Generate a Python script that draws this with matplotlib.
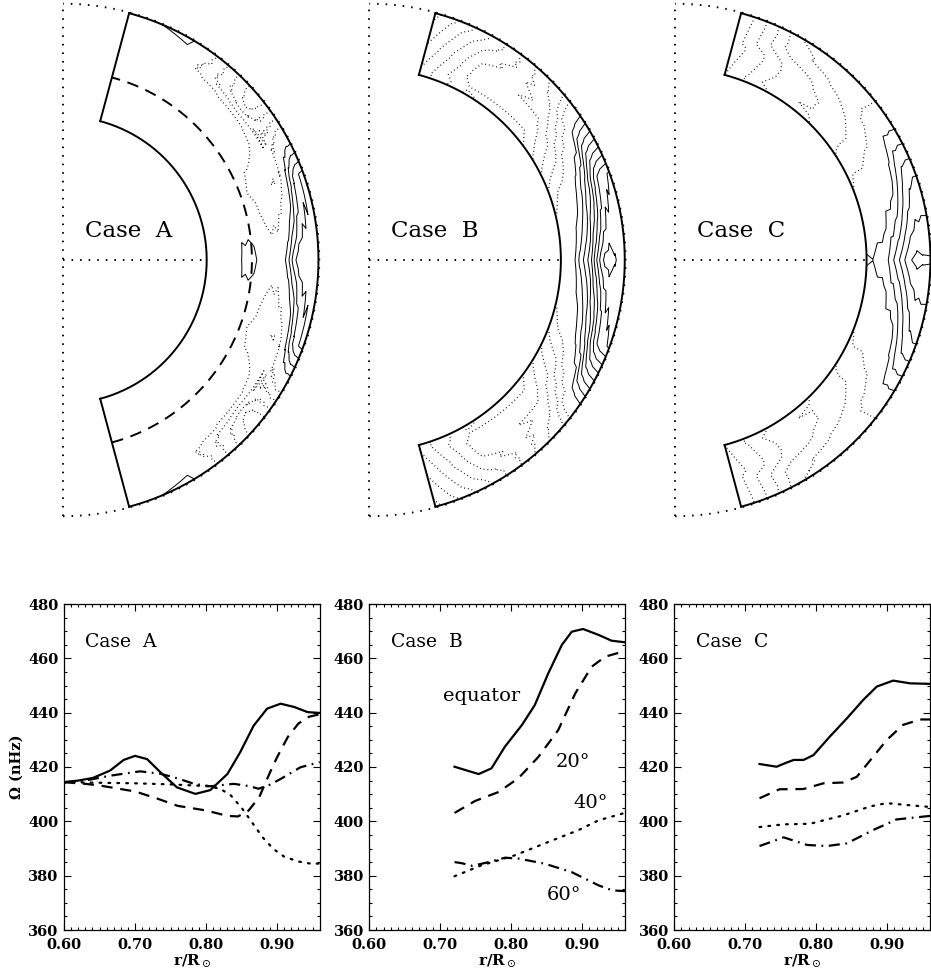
import numpy as np
import matplotlib.pyplot as plt
import matplotlib.tri as mtri
from matplotlib.ticker import MultipleLocator, FormatStrFormatter

# rotation profiles: r/Rsun and Omega (nHz)
# case A
a_r_eq = [0.60, 0.62, 0.641, 0.665, 0.684, 0.70, 0.717, 0.736, 0.759, 0.785, 0.806, 0.83,
          0.848, 0.867, 0.886, 0.905, 0.924, 0.943, 0.96]
a_om_eq = [414.4, 415.0, 416.0, 418.7, 422.6, 424.1, 422.9, 418.0, 412.5, 410.1, 411.5, 417.4,
           425.4, 435.2, 441.5, 443.3, 442.1, 440.2, 439.9]
a_r_20 = [0.60, 0.63, 0.65, 0.70, 0.73, 0.76, 0.80, 0.83, 0.845, 0.86, 0.875, 0.89, 0.90,
          0.915, 0.93, 0.945, 0.96]
a_om_20 = [414.4, 413.8, 413.2, 411.0, 408.5, 405.7, 404.0, 402.0, 401.8, 404.0, 409.0, 418.0,
           423.6, 431.0, 436.0, 438.5, 439.4]
a_r_40 = [0.60, 0.65, 0.70, 0.75, 0.80, 0.82, 0.835, 0.85, 0.865, 0.88, 0.895, 0.91, 0.93, 0.95, 0.96]
a_om_40 = [414.4, 414.2, 414.0, 413.6, 413.0, 412.0, 409.5, 405.0, 399.5, 394.0, 389.8, 387.0,
           385.2, 384.3, 384.5]
a_r_60 = [0.60, 0.63, 0.665, 0.707, 0.736, 0.76, 0.783, 0.806, 0.839, 0.86, 0.874, 0.89, 0.905,
          0.933, 0.96]
a_om_60 = [414.4, 415.0, 416.8, 418.4, 417.5, 415.8, 413.8, 412.9, 413.8, 413.0, 412.0, 413.5,
           415.6, 419.9, 421.8]

# case B
b_r_eq = [0.72, 0.735, 0.754, 0.772, 0.791, 0.815, 0.833, 0.852, 0.871, 0.885, 0.901, 0.923, 0.941, 0.96]
b_om_eq = [420.1, 418.9, 417.4, 419.5, 427.5, 435.5, 442.8, 454.5, 464.9, 469.8, 470.8, 468.6, 466.5, 465.9]
b_r_20 = [0.72, 0.749, 0.782, 0.81, 0.838, 0.866, 0.89, 0.913, 0.932, 0.96]
b_om_20 = [403.1, 407.5, 410.8, 415.9, 423.7, 433.6, 447.1, 456.9, 460.6, 462.7]
b_r_40 = [0.72, 0.758, 0.805, 0.852, 0.894, 0.923, 0.96]
b_om_40 = [379.8, 383.8, 387.5, 392.4, 396.7, 400.4, 403.1]
b_r_60 = [0.72, 0.73, 0.745, 0.765, 0.791, 0.81, 0.847, 0.885, 0.923, 0.942, 0.96]
b_om_60 = [385.0, 384.6, 383.6, 384.8, 386.6, 386.3, 384.4, 381.3, 376.4, 374.6, 374.3]

# case C
c_r_eq = [0.72, 0.744, 0.757, 0.768, 0.782, 0.796, 0.819, 0.843, 0.866, 0.885, 0.908, 0.932, 0.96]
c_om_eq = [421.1, 420.1, 421.5, 422.6, 422.6, 424.4, 431.2, 437.9, 444.7, 449.6, 451.8, 450.8, 450.6]
c_r_20 = [0.72, 0.748, 0.782, 0.81, 0.838, 0.857, 0.88, 0.899, 0.922, 0.946, 0.96]
c_om_20 = [408.5, 411.8, 411.9, 414.0, 414.3, 416.4, 423.8, 429.9, 435.5, 437.5, 437.5]
c_r_40 = [0.72, 0.754, 0.791, 0.838, 0.876, 0.899, 0.932, 0.96]
c_om_40 = [397.9, 398.9, 399.1, 402.2, 405.5, 406.7, 405.9, 405.3]
c_r_60 = [0.72, 0.754, 0.787, 0.815, 0.843, 0.88, 0.913, 0.96]
c_om_60 = [390.9, 394.1, 391.3, 390.9, 391.9, 396.8, 400.7, 402.0]

# rough estimates near the cut-off latitude (75 deg) for the meridional maps
a_r_pole = [0.54, 0.75, 0.96]
a_om_pole = [414.0, 415.0, 418.0]
b_r_pole = [0.72, 0.84, 0.96]
b_om_pole = [368.0, 360.0, 352.0]
c_r_pole = [0.72, 0.84, 0.96]
c_om_pole = [378.0, 374.0, 372.0]

lats = [0, 20, 40, 60]
frame_rate = 414.0
r_out = 0.96

cases = [
    ('A', [(a_r_eq, a_om_eq), (a_r_20, a_om_20), (a_r_40, a_om_40), (a_r_60, a_om_60)],
     (a_r_pole, a_om_pole), 0.54, 63.0),
    ('B', [(b_r_eq, b_om_eq), (b_r_20, b_om_20), (b_r_40, b_om_40), (b_r_60, b_om_60)],
     (b_r_pole, b_om_pole), 0.72, 369.3),
    ('C', [(c_r_eq, c_om_eq), (c_r_20, c_om_20), (c_r_40, c_om_40), (c_r_60, c_om_60)],
     (c_r_pole, c_om_pole), 0.72, 675.0),
]

W, H = 931.0, 974.0
fig = plt.figure(figsize=(W / 100, H / 100), dpi=100)

serif = 'DejaVu Serif'
dot_style = (0, (0.8, 3.6))


def shell_map(cx, name, curves, pole, r_in):
    scale = 266.1
    ax = fig.add_axes([(cx - 0.02 * scale) / W, (H - 519.4) / H, 1.02 * scale / W, 1.95 * scale / H])
    ax.set_xlim(-0.02, 1.0)
    ax.set_ylim(-0.975, 0.975)
    ax.axis('off')

    # scattered samples in (latitude, radius)
    lat_p, r_p, z_p = [], [], []
    for lat, (rr, oo) in zip(lats, curves):
        signs = (1,) if lat == 0 else (1, -1)
        for s in signs:
            if rr[0] > r_in + 1e-6:
                lat_p.append(s * lat)
                r_p.append(r_in)
                z_p.append(oo[0])
            lat_p += [s * lat] * len(rr)
            r_p += list(rr)
            z_p += list(oo)
    for s in (1, -1):
        lat_p += [s * 75] * len(pole[0])
        r_p += list(pole[0])
        z_p += list(pole[1])
    th = np.radians(lat_p)
    r_p = np.array(r_p)
    tri = mtri.Triangulation(th, r_p)
    refiner = mtri.UniformTriRefiner(tri)
    interp = mtri.LinearTriInterpolator(tri, np.array(z_p))
    tri_f, z_f = refiner.refine_field(np.array(z_p), triinterpolator=interp, subdiv=3)
    xs = tri_f.y * np.cos(tri_f.x)
    ys = tri_f.y * np.sin(tri_f.x)
    tri_xy = mtri.Triangulation(xs, ys, triangles=tri_f.triangles)

    pos_levels = frame_rate + 6 * np.arange(1, 12)
    neg_levels = frame_rate - 6 * np.arange(14, 0, -1)
    ax.tricontour(tri_xy, z_f, levels=pos_levels, colors='k', linewidths=0.7, linestyles='solid')
    ax.tricontour(tri_xy, z_f, levels=neg_levels, colors='k', linewidths=0.9,
                  linestyles=[(0, (0.7, 2.3))])

    # shell boundaries
    t = np.radians(np.linspace(-75, 75, 300))
    ax.plot(r_out * np.cos(t), r_out * np.sin(t), color='k', lw=1.4)
    ax.plot(r_in * np.cos(t), r_in * np.sin(t), color='k', lw=1.4)
    for s in (1, -1):
        e = np.radians(75 * s)
        ax.plot([r_in * np.cos(e), r_out * np.cos(e)], [r_in * np.sin(e), r_out * np.sin(e)],
                color='k', lw=1.4)
    if name == 'A':
        ax.plot(0.71 * np.cos(t), 0.71 * np.sin(t), color='k', lw=1.4, dashes=(6, 4))

    tt = np.radians(np.linspace(-90, 90, 400))
    ax.plot(0.963 * np.cos(tt), 0.963 * np.sin(tt), color='k', lw=1.4, linestyle=dot_style)
    ax.plot([0, 0], [-0.963, 0.963], color='k', lw=1.4, linestyle=dot_style)
    ax.plot([0, r_in], [0, 0], color='k', lw=1.4, linestyle=dot_style)

    ax.text(0.083, 0.11, 'Case  ' + name, fontsize=16.5, family=serif, ha='left', va='center')


for name, curves, pole, r_in, cx in cases:
    shell_map(cx, name, curves, pole, r_in)

# lower panels
styles = [dict(linestyle='solid'),
          dict(dashes=(5, 3.5)),
          dict(linestyle=(0, (0.8, 3.2)), dash_capstyle='round'),
          dict(dashes=(5, 2.5, 0.8, 2.5))]
lefts = [64.0, 369.3, 674.3]

for i, (name, curves, pole, r_in, cx) in enumerate(cases):
    ax = fig.add_axes([lefts[i] / W, (H - 930) / H, 255.7 / W, 326 / H])
    for (rr, oo), st in zip(curves, styles):
        ax.plot(rr, oo, color='k', lw=1.6, **st)
    ax.set_xlim(0.60, 0.96)
    ax.set_ylim(360, 480)
    ax.xaxis.set_major_locator(MultipleLocator(0.1))
    ax.xaxis.set_minor_locator(MultipleLocator(0.01))
    ax.yaxis.set_major_locator(MultipleLocator(20))
    ax.yaxis.set_minor_locator(MultipleLocator(5))
    ax.xaxis.set_major_formatter(FormatStrFormatter('%.2f'))
    ax.tick_params(which='both', direction='in', top=True, right=True, width=0.8)
    ax.tick_params(which='major', length=5, labelsize=10.5)
    ax.tick_params(axis='x', which='major', pad=6)
    ax.tick_params(axis='y', which='major', pad=4)
    ax.tick_params(which='minor', length=2.5)
    for lab in ax.get_xticklabels() + ax.get_yticklabels():
        lab.set_family(serif)
        lab.set_fontweight('bold')
    for sp in ax.spines.values():
        sp.set_linewidth(0.9)
    ax.set_xlabel(r'r/R$_\odot$', family=serif, fontweight='bold', fontsize=11, labelpad=0)
    if i == 0:
        ax.set_ylabel('Ω (nHz)', family=serif, fontweight='bold', fontsize=10.5, labelpad=3)
    ax.text(0.63, 466, 'Case  ' + name, family=serif, fontsize=13.5, ha='left', va='center')
    if name == 'B':
        ax.text(0.758, 446.3, 'equator', family=serif, fontsize=14, ha='center', va='center')
        ax.text(0.887, 422.0, '20°', family=serif, fontsize=14, ha='center', va='center')
        ax.text(0.911, 406.6, '40°', family=serif, fontsize=14, ha='center', va='center')
        ax.text(0.874, 372.9, '60°', family=serif, fontsize=14, ha='center', va='center')

fig.savefig('out.png', dpi=100)
